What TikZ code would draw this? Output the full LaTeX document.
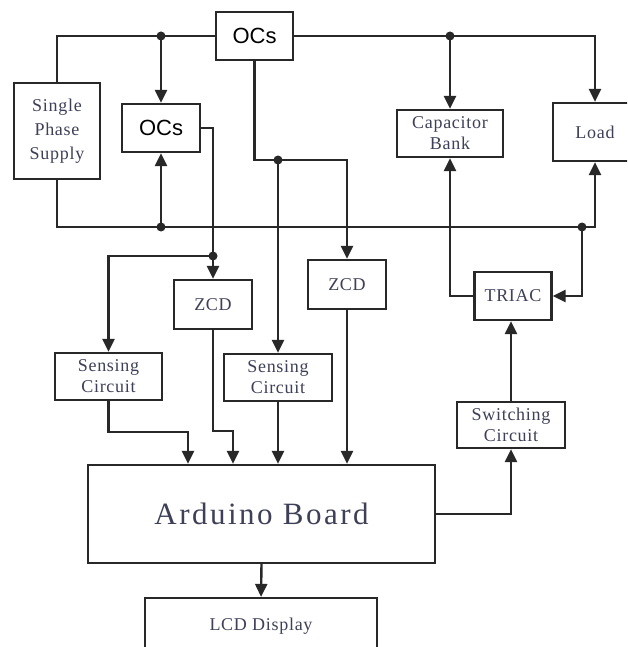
\documentclass[tikz,border=0pt]{standalone}
\usepackage{fontspec}
\setmainfont{Liberation Serif}[LetterSpace=4]
\newfontfamily\ocsfont{Liberation Sans}
\newfontfamily\ardfont{Liberation Serif}[LetterSpace=8]
\usetikzlibrary{arrows.meta, positioning, calc}
\definecolor{wire}{RGB}{40,40,40}
\definecolor{lbl}{RGB}{62,64,88}

\begin{document}
\begin{tikzpicture}[x=1pt, y=-1pt,
    blk/.style={draw=wire, line width=2.2pt, fill=white, align=center, inner sep=0pt,
      text=lbl, font=\fontsize{18}{21}\selectfont},
    ocsbox/.style={blk, text=black, font=\ocsfont\fontsize{22}{24}\selectfont},
    ln/.style={draw=wire, line width=2.4pt},
    arr/.style={ln, -{Triangle[length=13pt,width=12pt]}},
    jdot/.style={fill=wire}]
  \clip (0,0) rectangle (627,647);
  % Mains side
  \node[ocsbox, minimum width=77pt, minimum height=48pt] (ocstop) at (254.5,36) {OCs};
  \node[blk, minimum width=86pt, minimum height=96pt, font=\fontsize{18}{24}\selectfont]
    (supply) at (57,131) {Single\\Phase\\Supply};
  \node[ocsbox, minimum width=78pt, minimum height=48pt] (ocsleft) at (161,128) {OCs};
  \node[blk, minimum width=106pt, minimum height=47pt] (capbank) at (450,133.5) {Capacitor\\Bank};
  \node[blk, minimum width=84pt, minimum height=58pt] (load) at (595,132) {Load};
  % Measuring blocks
  \node[blk, minimum width=78pt, minimum height=49pt] (zcd1) at (213,304.5) {ZCD};
  \node[blk, minimum width=78pt, minimum height=49pt] (zcd2) at (347,284.5) {ZCD};
  \node[blk, minimum width=107pt, minimum height=47pt] (sense1) at (108.5,376.5) {Sensing\\Circuit};
  \node[blk, minimum width=108pt, minimum height=47pt] (sense2) at (278,377.5) {Sensing\\Circuit};
  % Switching side
  \node[blk, minimum width=77pt, minimum height=48pt] (triac) at (513,296) {TRIAC};
  \node[blk, minimum width=108pt, minimum height=46pt] (switch) at (511,425) {Switching\\Circuit};
  % Controller and display
  \node[blk, minimum width=347pt, minimum height=98pt, font=\ardfont\fontsize{31}{33}\selectfont]
    (ard) at (261.5,514) {Arduino Board};
  \node[blk, minimum width=232pt, minimum height=80pt] (lcd) at (261,638)
    {\raisebox{0pt}[0pt][0pt]{\raisebox{8pt}{LCD Display}}};
  % Supply buses
  \coordinate (jtopL) at (ocsleft.north |- ocstop.west);
  \coordinate (jtopR) at (capbank.north |- ocstop.east);
  \coordinate (bbR) at (load.south |- 0,227);
  \coordinate (jbotL) at (ocsleft.south |- bbR);
  \coordinate (jtr) at (582,227);
  \draw[ln] (supply.north) |- (ocstop.west);
  \draw[arr] (ocstop.east) -| (load.north);
  \draw[arr] (supply.south) |- (bbR) -- (load.south);
  \draw[arr] (jtopL) -- (ocsleft.north);
  \draw[arr] (jbotL) -- (ocsleft.south);
  \draw[arr] (jtopR) -- (capbank.north);
  \draw[arr] (jtr) |- (triac.east);
  % OCs to ZCD and sensing
  \coordinate (jz1) at (zcd1.north |- 0,256);
  \coordinate (jz2) at (sense2.north |- 0,160);
  \draw[arr] (ocsleft.east) -| (zcd1.north);
  \draw[arr] (jz1) -| (sense1.north);
  \draw[arr] (ocstop.south) |- (jz2) -| (zcd2.north);
  \draw[arr] (jz2) -- (sense2.north);
  % Inputs of the Arduino
  \coordinate (in1) at (188,0);
  \coordinate (in2) at (233,0);
  \draw[arr] (sense1.south) |- (in1 |- 0,432) -- (in1 |- ard.north);
  \draw[arr] (zcd1.south) |- (in2 |- 0,431) -- (in2 |- ard.north);
  \draw[arr] (sense2.south) -- (sense2.south |- ard.north);
  \draw[arr] (zcd2.south) -- (zcd2.south |- ard.north);
  % Outputs of the Arduino
  \draw[arr] (ard.east) -| (switch.south);
  \draw[arr] (switch.north) -- (switch.north |- triac.south);
  \draw[arr] (triac.west) -| (capbank.south);
  \draw[arr] (ard.south) -- (lcd.north);
  % Junction dots
  \foreach \j in {jtopL, jtopR, jbotL, jtr, jz1, jz2}
    \fill[jdot] (\j) circle (4.5pt);
\end{tikzpicture}
\end{document}
